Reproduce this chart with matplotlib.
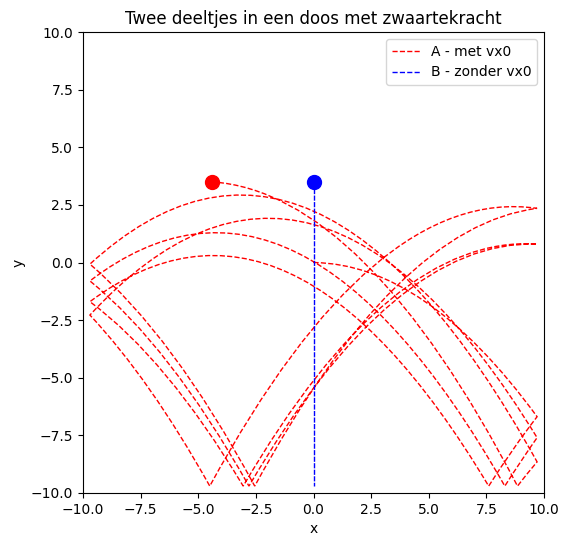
import matplotlib
matplotlib.use('Agg')
import matplotlib.pyplot as plt
from matplotlib.path import Path
from matplotlib.patches import PathPatch
from matplotlib.lines import Line2D

# Particle A: bounce points (walls / floor), start and current position
a_x = [0.0, 9.7, 7.6, -9.7, -3.05, 9.7, -2.8, -9.7, 8.3, 9.7, -9.7, -4.5, 9.7, -2.55, -9.7, 9.7, 8.85, -4.4]
a_y = [0.0, -6.69, -9.7, -1.7, -9.7, 0.8, -9.7, -0.8, -9.7, -7.6, -2.28, -9.7, 2.35, -9.7, -0.07, -8.65, -9.7, 3.5]
# y of each arc at the x-midpoint between consecutive bounce points
a_mid_y = [-1.70, -8.12, -0.46, -4.93, -1.61, -1.72, -4.42, 0.42, -8.62, 1.65,
           -5.52, -0.15, -1.05, -3.99, 2.23, -9.16, -0.03]

# Particle B: vertical bounce (turning points)
b_x = [0.0] * 15
b_y = [0.0, -9.7, 0.28, -9.7, 0.8, -9.7, 1.3, -9.7, 1.85, -9.7, 2.35, -9.7, 2.95, -9.7, 3.5]

title = "Twee deeltjes in een doos met zwaartekracht"
label_a = "A - met vx0"
label_b = "B - zonder vx0"

fig = plt.figure(figsize=(5.69, 5.47), dpi=100)
ax = fig.add_axes([83/569, 54/547, 461/569, 461/547])

verts = [(a_x[0], a_y[0])]
codes = [Path.MOVETO]
for i, my in enumerate(a_mid_y):
    x0, y0 = a_x[i], a_y[i]
    x2, y2 = a_x[i + 1], a_y[i + 1]
    cx = (x0 + x2) / 2
    cy = 2 * my - (y0 + y2) / 2
    verts += [(cx, cy), (x2, y2)]
    codes += [Path.CURVE3, Path.CURVE3]

patch = PathPatch(Path(verts, codes), fill=False, edgecolor='red',
                  linestyle='--', linewidth=1)
ax.add_patch(patch)

# B's path retraces the same vertical line; draw its extent once so dashes stay visible
ax.plot([b_x[-1], b_x[-1]], [max(b_y), min(b_y)], linestyle='--',
        color='blue', linewidth=1, dashes=(3.7, 1.0))

ax.plot(a_x[-1], a_y[-1], 'o', color='red', markersize=10)
ax.plot(b_x[-1], b_y[-1], 'o', color='blue', markersize=10)

ax.set_xlim(-10, 10)
ax.set_ylim(-10, 10)
ax.set_title(title)
ax.set_xlabel('x')
ax.set_ylabel('y')

handles = [Line2D([], [], color='red', linestyle='--', linewidth=1),
           Line2D([], [], color='blue', linestyle='--', linewidth=1)]
ax.legend(handles, [label_a, label_b], loc='upper right')

fig.savefig('out.png', dpi=100)
